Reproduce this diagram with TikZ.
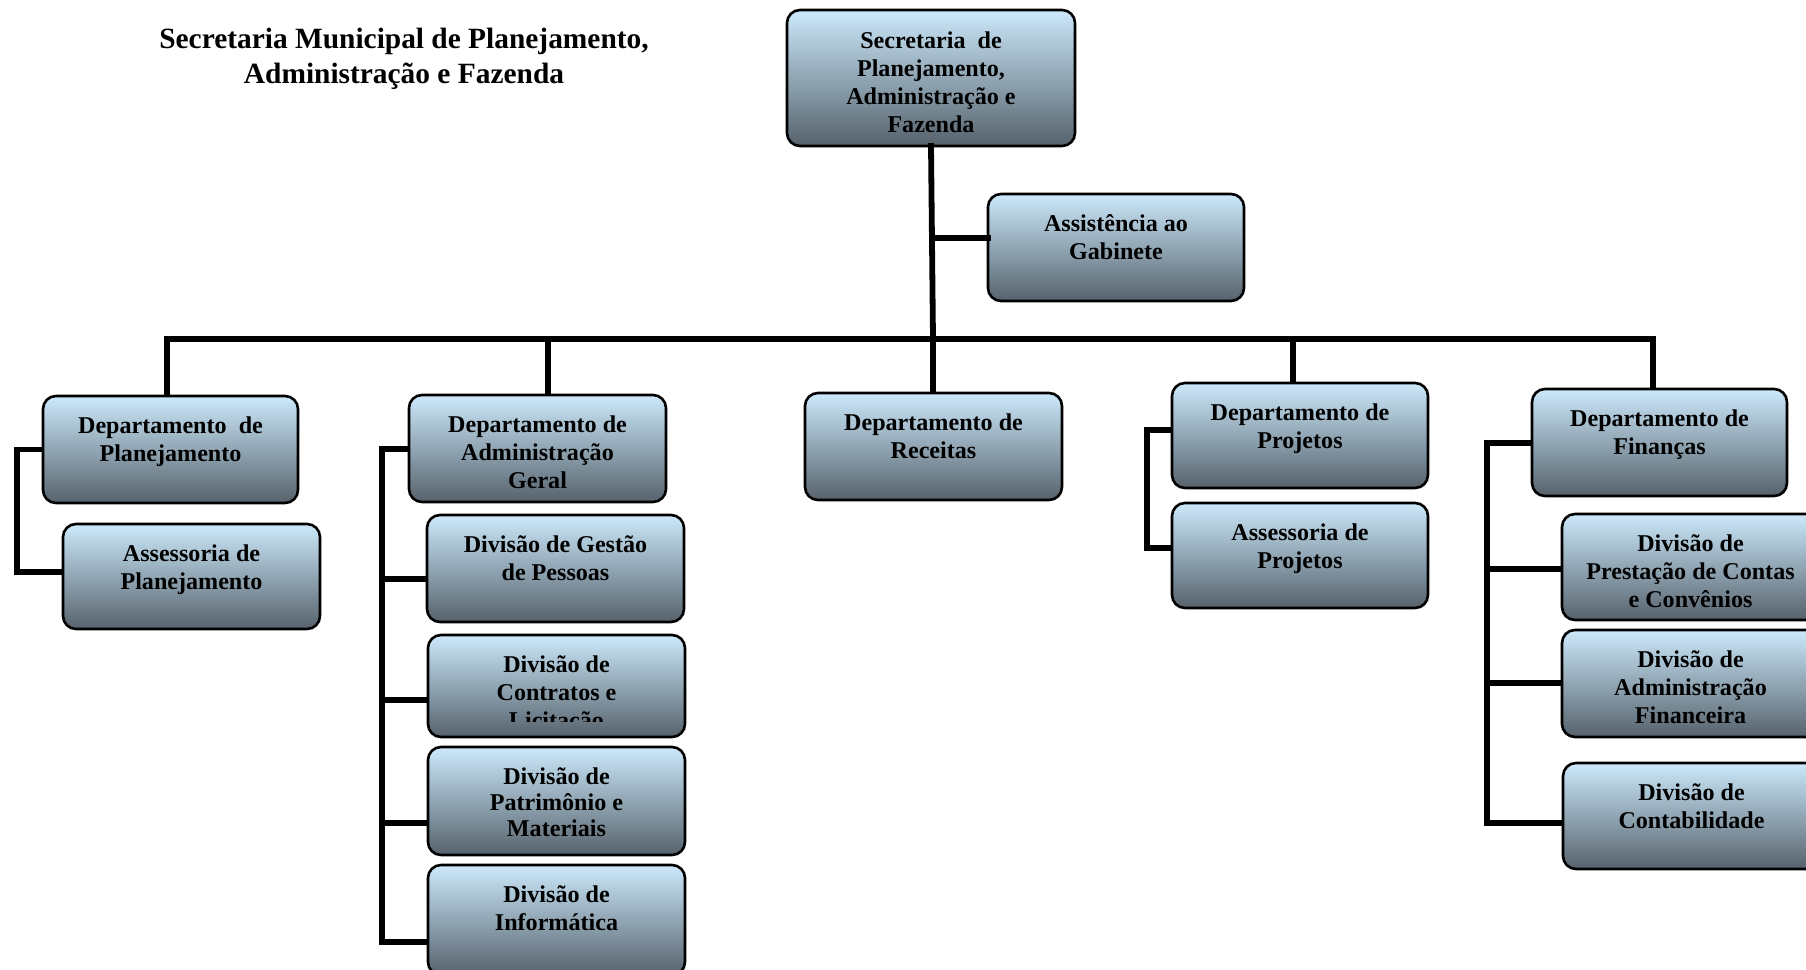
\documentclass[tikz,border=0pt]{standalone}
\usepackage{fontspec}
\setmainfont{Liberation Serif}
\usetikzlibrary{calc}
\definecolor{ctop}{RGB}{204,233,251}
\definecolor{cmid}{RGB}{152,172,187}
\definecolor{cbot}{RGB}{86,98,108}
\tikzset{
  box/.style={draw=black, line width=2.6pt, rounded corners=13pt, inner sep=0pt, outer sep=0pt,
    top color=ctop, middle color=cmid, bottom color=cbot},
  lbl/.style={font=\fontsize{24.1}{27.8}\selectfont\bfseries, align=center, anchor=north, inner sep=0pt},
  conn/.style={line width=5.8pt, line join=miter, line cap=rect},
  ttl/.style={font=\fontsize{29.4}{35}\selectfont\bfseries, align=center, anchor=base, inner sep=0pt},
}
\newcommand\bx[6]{%
  \node[box, minimum width={#4-#2}, minimum height={#5-#3}] (#1) at ({(#2+#4)/2},{(#3+#5)/2}) {};
  \node[lbl] (#1t) at ({(#2+#4)/2},{#3+20.5}) {#6};
}
\begin{document}
\begin{tikzpicture}[x=1pt,y=-1pt]
\useasboundingbox (0,0) rectangle (1806,969);
\clip (0,0) rectangle (1806,969);

\node[ttl] (title1) at (404,48.5) {Secretaria Municipal de Planejamento,};
\node[ttl] (title2) at (404,83.5) {Administração e Fazenda};

\coordinate (tr) at (933,339);
\coordinate (ga) at (933,238);
\coordinate (b1) at (167,339);
\coordinate (b2) at (548,339);
\coordinate (b4) at (1293,339);
\coordinate (b5) at (1653,339);

\node[box, minimum width=288, minimum height=136] (top) at (931,78) {};
\node[lbl] (topt) at (931,32) {Secretaria\ \ de\\Planejamento,\\Administração e\\Fazenda};
\bx{assist}{988}{194}{1244}{301}{Assistência ao\\Gabinete}

\draw[conn] (top.south) -- (tr);
\draw[conn] (ga) -- (ga -| assist.west);
\draw[conn] (b1) -- (b5);

\coordinate (lp) at (17,449.5);
\coordinate (lpa) at (17,572);
\coordinate (ad) at (382,449);
\coordinate (ad1) at (382,579);
\coordinate (ad2) at (382,700);
\coordinate (ad3) at (382,823);
\coordinate (ad4) at (382,942);
\coordinate (pj) at (1147,430);
\coordinate (pja) at (1147,548);
\coordinate (fi) at (1487,443);
\coordinate (fi1) at (1487,569);
\coordinate (fi2) at (1487,683);
\coordinate (fi3) at (1487,823);

\draw[conn] (b1) -- (b1 |- 0,396);
\draw[conn] (b2) -- (b2 |- 0,395);
\draw[conn] (tr) -- (933,393);
\draw[conn] (b4) -- (b4 |- 0,383);
\draw[conn] (b5) -- (b5 |- 0,389);

\draw[conn] (lp -| 43,0) -- (lp) -- (lpa) -- (lpa -| 63,0);
\draw[conn] (ad -| 409,0) -- (ad) -- (ad4);
\draw[conn] (ad1) -- (ad1 -| 427,0);
\draw[conn] (ad2) -- (ad2 -| 428,0);
\draw[conn] (ad3) -- (ad3 -| 428,0);
\draw[conn] (ad4) -- (ad4 -| 428,0);
\draw[conn] (pj -| 1172,0) -- (pj) -- (pja) -- (pja -| 1172,0);
\draw[conn] (fi -| 1532,0) -- (fi) -- (fi3);
\draw[conn] (fi1) -- (fi1 -| 1562,0);
\draw[conn] (fi2) -- (fi2 -| 1562,0);
\draw[conn] (fi3) -- (fi3 -| 1563,0);

\bx{dplan}{43}{396}{298}{503}{Departamento\ \ de\\Planejamento}
\bx{aplan}{63}{524}{320}{629}{Assessoria de\\Planejamento}
\bx{dadm}{409}{395}{666}{502}{Departamento de\\Administração\\Geral}
\bx{gestao}{427}{515}{684}{622}{Divisão de Gestão\\de Pessoas}
\node[box, minimum width=257, minimum height=102] (contr) at (556.5,686) {};
\begin{scope}
\clip (428,635) rectangle (685,721.5);
\node[lbl] (contrt) at (556.5,655.5) {Divisão de\\Contratos e\\Licitação};
\end{scope}
\bx{patr}{428}{747}{685}{855}{Divisão de\\[-1.8pt]Patrimônio e\\[-1.8pt]Materiais}
\bx{info}{428}{865}{685}{975}{Divisão de\\Informática}
\bx{drec}{805}{393}{1062}{500}{Departamento de\\Receitas}
\bx{dproj}{1172}{383}{1428}{488}{Departamento de\\Projetos}
\bx{aproj}{1172}{503}{1428}{608}{Assessoria de\\Projetos}
\bx{dfin}{1532}{389}{1787}{496}{Departamento de\\Finanças}
\bx{prest}{1562}{514}{1819}{620}{Divisão de\\Prestação de Contas\\e Convênios}
\bx{admfin}{1562}{630}{1819}{737}{Divisão de\\Administração\\Financeira}
\bx{contab}{1563}{763}{1820}{869}{Divisão de\\Contabilidade}
\end{tikzpicture}
\end{document}
